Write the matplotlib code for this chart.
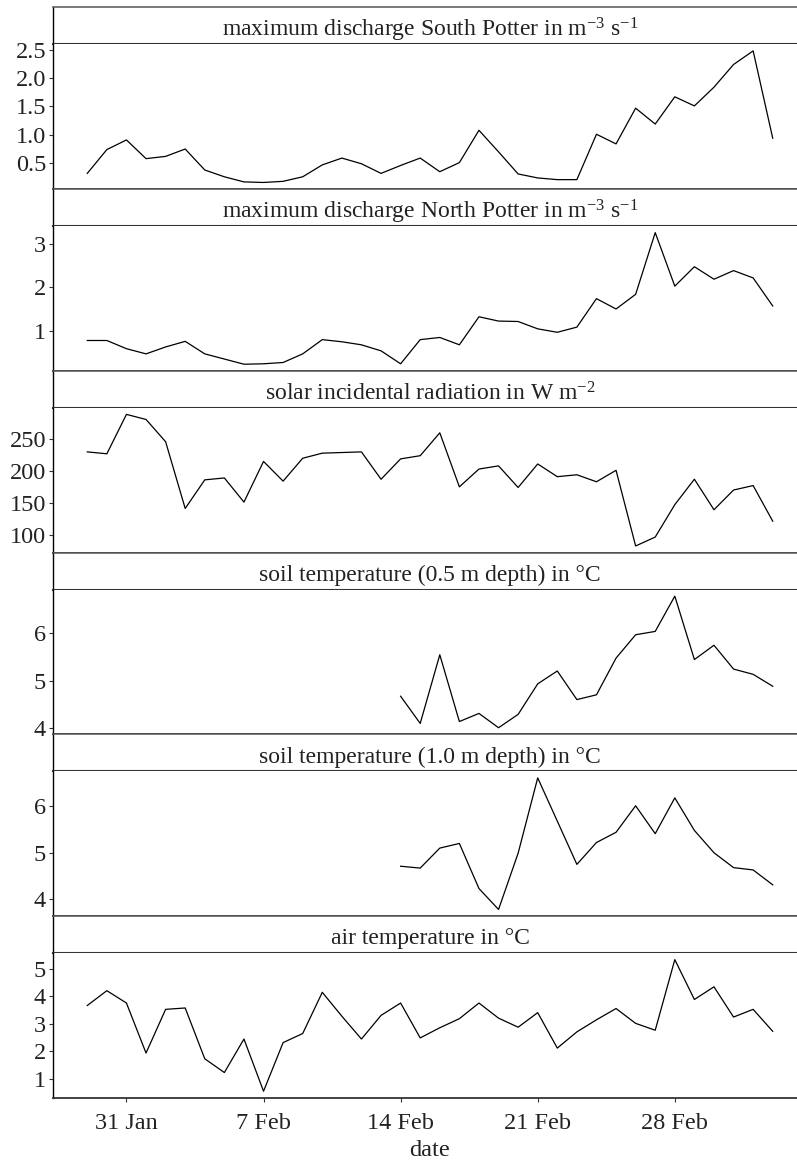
import matplotlib
matplotlib.use("Agg")
import matplotlib.pyplot as plt
import numpy as np
import pandas as pd

plt.rcParams['font.family'] = ['Liberation Serif', 'DejaVu Serif']
plt.rcParams['mathtext.fontset'] = 'custom'
plt.rcParams['mathtext.rm'] = 'Liberation Serif'
plt.rcParams['mathtext.it'] = 'Liberation Serif:italic'

nan = np.nan

# daily values, 29 Jan - 5 Mar
dates = pd.date_range('2015-01-29', '2015-03-05', freq='D')

south_potter = [0.32, 0.74, 0.91, 0.58, 0.62, 0.75, 0.38, 0.26, 0.17, 0.16,
                0.18, 0.26, 0.47, 0.59, 0.49, 0.32, 0.46, 0.59, 0.35, 0.51,
                1.08, 0.70, 0.31, 0.24, 0.21, 0.21, 1.01, 0.84, 1.47, 1.19,
                1.67, 1.51, 1.84, 2.24, 2.48, 0.94]

north_potter = [0.77, 0.77, 0.58, 0.46, 0.62, 0.75, 0.46, 0.34, 0.22, 0.23,
                0.26, 0.46, 0.79, 0.74, 0.67, 0.53, 0.23, 0.79, 0.84, 0.67,
                1.32, 1.22, 1.21, 1.04, 0.96, 1.08, 1.74, 1.50, 1.84, 3.27,
                2.03, 2.48, 2.19, 2.39, 2.22, 1.57]

solar_rad = [230, 227, 289, 281, 246, 141, 186, 189, 151, 215,
             184, 220, 228, 229, 230, 187, 219, 224, 260, 175,
             203, 208, 174, 211, 191, 194, 183, 201, 82, 96,
             147, 187, 139, 170, 177, 121]

soil_05 = [nan] * 16 + [4.67, 4.10, 5.54, 4.14, 4.31, 4.01, 4.29, 4.93, 5.20, 4.60,
                        4.70, 5.47, 5.96, 6.03, 6.77, 5.44, 5.74, 5.24, 5.13, 4.88]

soil_10 = [nan] * 16 + [4.71, 4.67, 5.10, 5.20, 4.23, 3.78, 4.99, 6.61, 5.68, 4.75,
                        5.22, 5.44, 6.01, 5.41, 6.18, 5.48, 5.00, 4.68, 4.63, 4.31]

air_temp = [3.66, 4.20, 3.75, 1.93, 3.52, 3.57, 1.72, 1.22, 2.44, 0.54,
            2.31, 2.64, 4.14, 3.27, 2.44, 3.30, 3.75, 2.48, 2.85, 3.18,
            3.75, 3.20, 2.87, 3.40, 2.11, 2.70, 3.14, 3.55, 3.01, 2.76,
            5.33, 3.88, 4.34, 3.24, 3.52, 2.72]

titles = [r'maximum discharge South Potter in m$^{-3}$ s$^{-1}$',
          r'maximum discharge North Potter in m$^{-3}$ s$^{-1}$',
          r'solar incidental radiation in W m$^{-2}$',
          'soil temperature (0.5 m depth) in \u00b0C',
          'soil temperature (1.0 m depth) in \u00b0C',
          'air temperature in \u00b0C']
series = [south_potter, north_potter, solar_rad, soil_05, soil_10, air_temp]
yticks = [[0.5, 1.0, 1.5, 2.0, 2.5], [1, 2, 3], [100, 150, 200, 250],
          [4, 5, 6], [4, 5, 6], [1, 2, 3, 4, 5]]
ytick_labels = [['0.5', '1.0', '1.5', '2.0', '2.5'], ['1', '2', '3'],
                ['100', '150', '200', '250'], ['4', '5', '6'], ['4', '5', '6'],
                ['1', '2', '3', '4', '5']]
xtick_labels = ['31 Jan', '7 Feb', '14 Feb', '21 Feb', '28 Feb']
xtick_dates = pd.to_datetime([s + ' 2015' for s in xtick_labels], format='%d %b %Y')

W, H = 797, 1161
fig = plt.figure(figsize=(W / 100, H / 100), dpi=100)

left = 53 / W
width = 754 / W
top0 = 7.3
unit = 181.75
strip_h = 37.0
plot_h = unit - strip_h
pad = pd.Timedelta(days=1.75)
col = '#333333'
txt = '#222222'

for i, (vals, title) in enumerate(zip(series, titles)):
    ytop = top0 + i * unit
    sax = fig.add_axes([left, 1 - (ytop + strip_h) / H, width, strip_h / H])
    sax.set_xticks([])
    sax.set_yticks([])
    for s in sax.spines.values():
        s.set_color(col)
        s.set_linewidth(1.5)
    sax.spines['top'].set_linewidth(1.1)
    sax.spines['top'].set_color('#555555')
    sax.spines['left'].set_color('black')
    sax.spines['left'].set_linewidth(1.0)
    sax.text(0.5, 0.38, title, transform=sax.transAxes, ha='center', va='center',
             fontsize=17, color=txt)

    ax = fig.add_axes([left, 1 - (ytop + unit) / H, width, plot_h / H])
    ax.plot(dates, vals, color='black', lw=0.9)
    ax.set_xlim(dates[0] - pad, dates[-1] + pad)
    ax.set_yticks(yticks[i])
    ax.set_yticklabels(ytick_labels[i])
    ax.spines['top'].set_visible(False)
    ax.spines['right'].set_visible(False)
    ax.spines['left'].set_linewidth(1.0)
    ax.spines['bottom'].set_color(col)
    ax.spines['bottom'].set_linewidth(1.3)
    ax.tick_params(axis='y', length=3, width=0.8, color=col, labelsize=17.5,
                   labelcolor=txt, pad=2)
    if i < 5:
        ax.set_xticks([])
    else:
        ax.set_xticks(xtick_dates)
        ax.set_xticklabels(xtick_labels)
        ax.tick_params(axis='x', length=3, width=0.8, color=col, labelsize=17.5,
                       labelcolor=txt, pad=8)
        ax.set_xlabel('date', fontsize=17.5, color=txt, labelpad=4)

fig.savefig('out.png', dpi=100)
